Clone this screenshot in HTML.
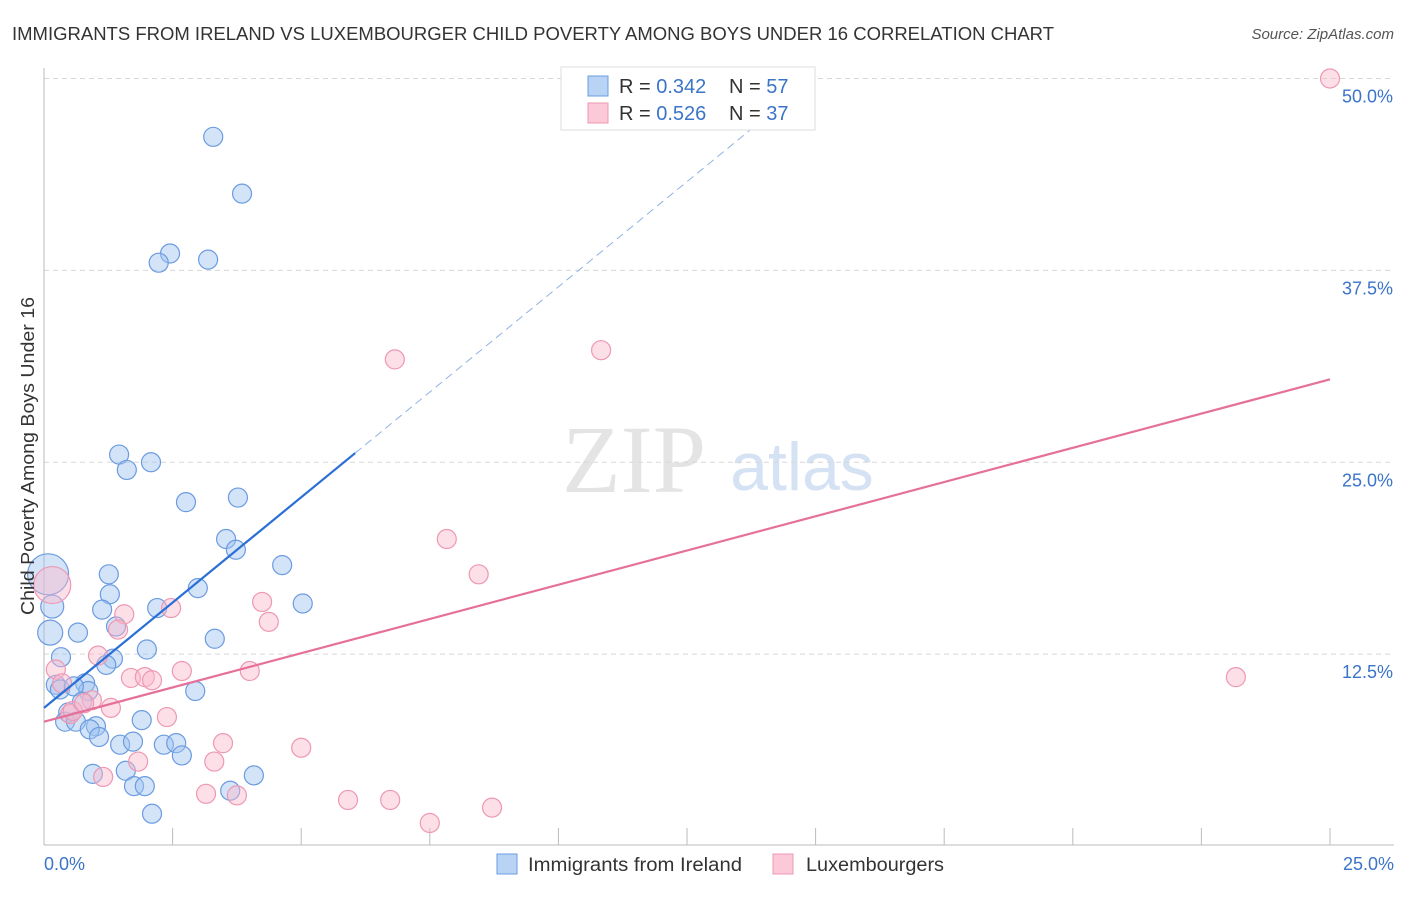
<!DOCTYPE html>
<html><head><meta charset="utf-8"><style>
body{margin:0;background:#fff;font-family:"Liberation Sans",sans-serif}
</style></head><body>
<svg width="1406" height="892" viewBox="0 0 1406 892" xmlns="http://www.w3.org/2000/svg" font-family="Liberation Sans, sans-serif">
<text x="12" y="40" font-size="18" fill="#333" textLength="1042" lengthAdjust="spacingAndGlyphs">IMMIGRANTS FROM IRELAND VS LUXEMBOURGER CHILD POVERTY AMONG BOYS UNDER 16 CORRELATION CHART</text>
<text x="1394" y="39" font-size="15" fill="#555" text-anchor="end" font-style="italic">Source: ZipAtlas.com</text>
<text x="634" y="492" font-size="96" fill="#e4e4e4" font-family="Liberation Serif, serif" text-anchor="middle">ZIP</text>
<text x="802" y="490" font-size="68" fill="#d4e2f4" text-anchor="middle">atlas</text>
<g id="grid"></g>
<g id="axes"></g>
<g id="pts"></g>
<g id="lines"></g>
<text x="34" y="456" font-size="18" fill="#333" text-anchor="middle" textLength="318" lengthAdjust="spacingAndGlyphs" transform="rotate(-90 34 456)">Child Poverty Among Boys Under 16</text>
<text x="44" y="870" font-size="18" fill="#3b74c9">0.0%</text>
<text x="1394" y="870" font-size="18" fill="#3b74c9" text-anchor="end">25.0%</text>
<g>
<rect x="561" y="67" width="254" height="63" fill="#fff" stroke="#ddd"/>
<rect x="588" y="76" width="20" height="20" fill="#b9d3f5" stroke="#6b9be0"/>
<rect x="588" y="103" width="20" height="20" fill="#fcc9d8" stroke="#ee98b2"/>
<text x="619" y="93" font-size="20" fill="#333">R = <tspan fill="#3b74c9">0.342</tspan></text>
<text x="729" y="93" font-size="20" fill="#333">N = <tspan fill="#3b74c9">57</tspan></text>
<text x="619" y="120" font-size="20" fill="#333">R = <tspan fill="#3b74c9">0.526</tspan></text>
<text x="729" y="120" font-size="20" fill="#333">N = <tspan fill="#3b74c9">37</tspan></text>
</g>
<g>
<rect x="497" y="854" width="20" height="20" fill="#b9d3f5" stroke="#6b9be0"/>
<text x="528" y="871" font-size="19" fill="#333" textLength="214" lengthAdjust="spacingAndGlyphs">Immigrants from Ireland</text>
<rect x="773" y="854" width="20" height="20" fill="#fcc9d8" stroke="#ee98b2"/>
<text x="806" y="871" font-size="19" fill="#333" textLength="138" lengthAdjust="spacingAndGlyphs">Luxembourgers</text>
</g>
</svg>
<script>
const yTicks=[12.5,25,37.5,50];
const yTickLabels=["12.5%","25.0%","37.5%","50.0%"];
const xTicks=[2.5,5,7.5,10,12.5,15,17.5,20,22.5,25];
const blueX=[3.29,3.85,2.45,2.23,3.19,1.46,1.61,2.08,2.76,3.77,3.54,3.73,4.63,1.26,1.28,2.99,5.03,1.13,2.2,0.66,1.4,3.32,2.0,0.33,1.34,1.21,0.23,0.8,0.31,0.86,0.58,2.94,0.47,0.74,0.41,0.62,1.01,0.89,1.07,1.9,1.48,1.73,2.33,2.57,2.68,1.59,0.95,1.75,1.96,4.08,3.62,2.1,0.16,0.12,0.08];
const blueY=[46.2,42.5,38.6,38.0,38.2,25.5,24.5,25.0,22.4,22.7,20.0,19.3,18.3,17.7,16.4,16.8,15.8,15.4,15.5,13.9,14.3,13.5,12.8,12.3,12.2,11.8,10.5,10.6,10.2,10.1,10.4,10.1,8.7,9.4,8.1,8.1,7.8,7.6,7.1,8.2,6.6,6.8,6.6,6.7,5.9,4.9,4.7,3.9,3.9,4.6,3.6,2.1,15.6,13.9,17.7];
const blueR=[9,9,9,9,9,9,9,9,9,9,9,9,9,9,9,9,9,9,9,9,9,9,9,9,9,9,9,9,9,9,9,9,9,9,9,9,9,9,9,9,9,9,9,9,9,9,9,9,9,9,9,9,11,12,20];
const pinkX=[25,6.82,10.83,7.83,8.45,23.17,4.24,4.37,1.56,2.47,1.44,0.16,0.23,0.35,1.05,2.68,4.0,1.69,1.96,2.1,0.93,1.3,0.51,2.39,3.48,5.0,3.31,1.83,1.15,3.15,3.75,5.91,6.73,8.71,7.5,0.56,0.78];
const pinkY=[50,31.7,32.3,20.0,17.7,11.0,15.9,14.6,15.1,15.5,14.1,17.0,11.5,10.6,12.4,11.4,11.4,10.95,11.0,10.8,9.5,9.0,8.6,8.4,6.7,6.4,5.5,5.5,4.5,3.4,3.3,3.0,3.0,2.5,1.5,8.8,9.3];
const pinkR=[9,9,9,9,9,9,9,9,9,9,9,18,9,9,9,9,9,9,9,9,9,9,9,9,9,9,9,9,9,9,9,9,9,9,9,9,9];
const blueLine=[0,9.0,6.05,25.6];
const blueDash=[6.05,25.6,13.93,47.2];
const pinkLine=[0,8.1,25,30.4];
const X=v=>44+v*51.44, Y=v=>846-v*15.35;
const NS="http://www.w3.org/2000/svg";
function mk(t,a,p){const e=document.createElementNS(NS,t);for(const k in a)e.setAttribute(k,a[k]);document.getElementById(p).appendChild(e);return e;}
yTicks.forEach((t,i)=>{
 const l=mk('line',{x1:44,x2:1394,y1:Y(t),y2:Y(t),stroke:'#d8d8d8','stroke-dasharray':'5,4'},'grid');
 
 
 const tx=mk('text',{x:1393,y:Y(t)+24,'font-size':18,fill:'#3b74c9','text-anchor':'end'},'grid');tx.textContent=yTickLabels[i];
 
 
});
const ax=mk('line',{x1:44,x2:1394,y1:845,y2:845,stroke:'#bbb'},'axes');


const ay=mk('line',{x1:44,x2:44,y1:68,y2:845,stroke:'#bbb'},'axes');


xTicks.forEach(t=>{const l=mk('line',{x1:X(t),x2:X(t),y1:828,y2:845,stroke:'#bbb'},'axes');
 
 });
blueX.forEach((v,i)=>{const c=mk('circle',{cx:X(v),cy:Y(blueY[i]),r:blueR[i]+0.5,fill:'rgba(160,196,240,0.45)',stroke:'#6b9be0','stroke-width':1.2},'pts');
 
 });
pinkX.forEach((v,i)=>{const c=mk('circle',{cx:X(v),cy:Y(pinkY[i]),r:pinkR[i]+0.5,fill:'rgba(250,185,205,0.45)',stroke:'#ee98b2','stroke-width':1.2},'pts');
 
 });
const b=mk('line',{x1:X(blueLine[0]),y1:Y(blueLine[1]),x2:X(blueLine[2]),y2:Y(blueLine[3]),stroke:'#2a6fd6','stroke-width':2.2},'lines');


const bd=mk('line',{x1:X(blueDash[0]),y1:Y(blueDash[1]),x2:X(blueDash[2]),y2:Y(blueDash[3]),stroke:'#8fb2e6','stroke-width':1,'stroke-dasharray':'8,5'},'lines');


const p=mk('line',{x1:X(pinkLine[0]),y1:Y(pinkLine[1]),x2:X(pinkLine[2]),y2:Y(pinkLine[3]),stroke:'#e5709a','stroke-width':2.2},'lines');


</script>
</body></html>
